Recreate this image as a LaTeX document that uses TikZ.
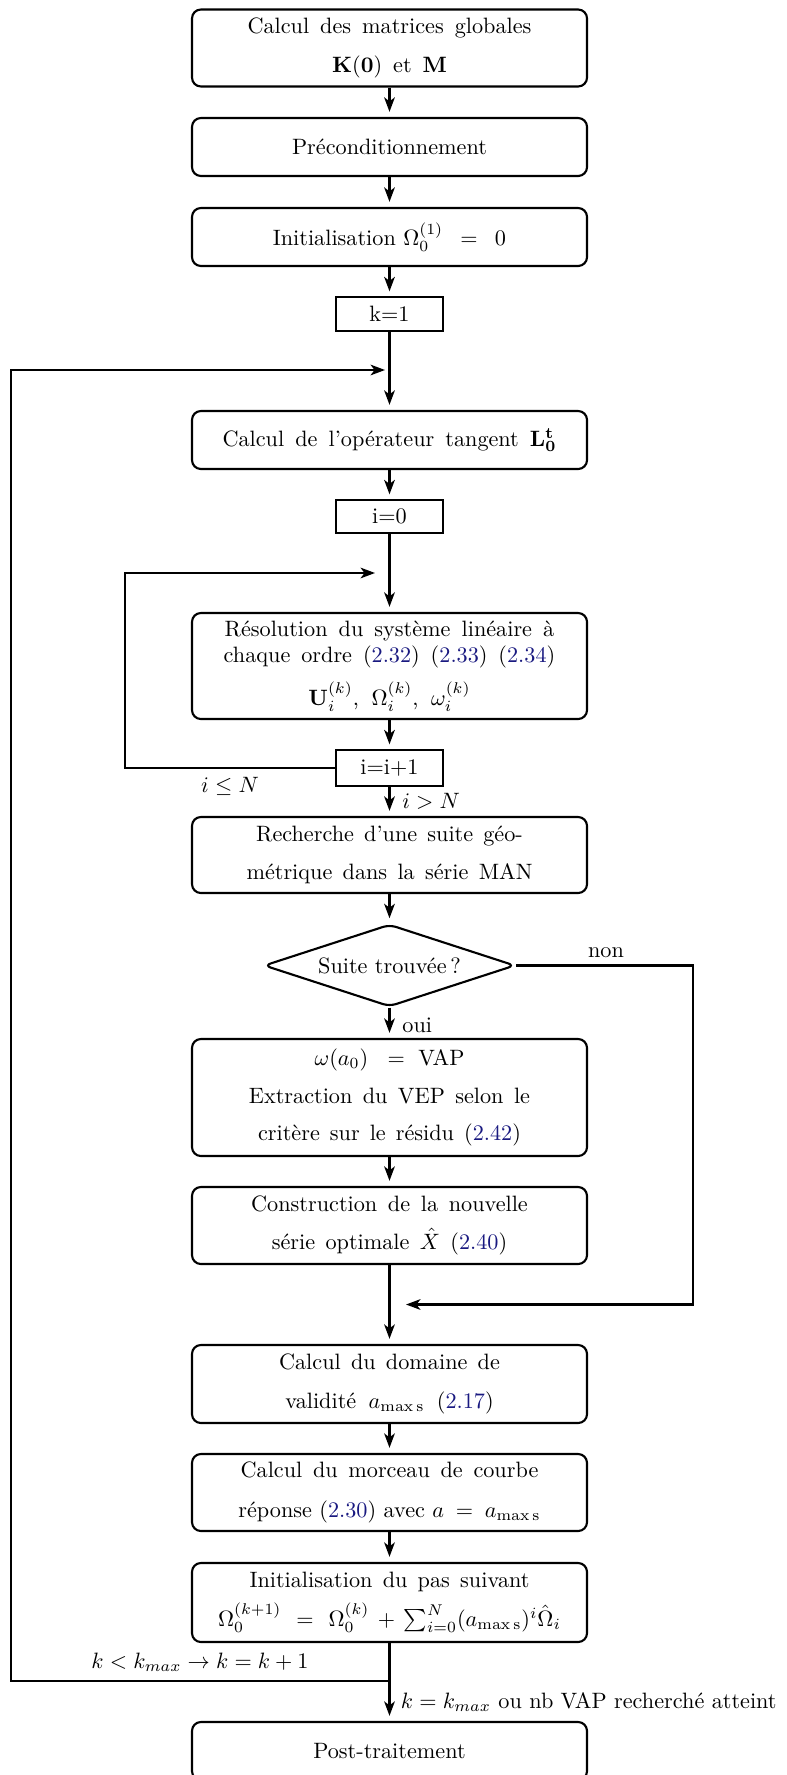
\documentclass[tikz,border=0pt]{standalone}
\usetikzlibrary{arrows.meta,shapes.geometric}
\definecolor{refc}{rgb}{0.1,0.1,0.5}
\newcommand{\eqr}[1]{\textcolor{refc}{#1}}
\newcommand{\jline}[2]{\makebox[#1][s]{#2}}
\begin{document}
\begin{tikzpicture}[x=0.45pt,y=-0.45pt,
  box/.style={draw,line width=0.95pt,rounded corners=4pt,minimum width=177.75pt,align=center,inner sep=2pt,anchor=center},
  sbox/.style={draw,line width=0.5pt,minimum width=48.15pt,inner sep=2pt,anchor=center},
  dec/.style={diamond,draw,line width=0.95pt,rounded corners=3pt,aspect=3,minimum width=113pt,minimum height=37pt,inner sep=0pt},
  arr/.style={line width=0.95pt,-{Stealth[length=6.5pt,width=4.8pt,inset=1.8pt]},shorten >=2.3pt},
  loopline/.style={line width=0.95pt,-{Stealth[length=6.5pt,width=4.8pt,inset=1.8pt]}},
  lbl/.style={inner sep=0pt}]
\useasboundingbox (0,0) rectangle (787,1775);
% boxes
\node[box,minimum height=34.65pt] (b1) at (389.5,48) {\jline{127.8pt}{Calcul des matrices globales}\\[5.5pt] \jline{51.6pt}{$\mathbf{K}(\mathbf{0})$ et $\mathbf{M}$}};
\node[box,minimum height=26.1pt] (b2) at (389.5,147) {Préconditionnement};
\node[box,minimum height=26.1pt] (b3) at (389.5,237) {Initialisation $\Omega_0^{(1)}\hspace{5pt}=\hspace{5pt}0$};
\node[sbox,minimum height=15.3pt] (k1) at (389.5,314) {k=1};
\node[box,minimum height=26.1pt] (lt) at (389.5,440) {\jline{150.3pt}{Calcul de l'opérateur tangent $\mathbf{L}_{\mathbf{0}}^{\mathbf{t}}$}};
\node[sbox,minimum height=14.85pt] (i0) at (389.5,516.5) {i=0};
\node[box,minimum height=47.7pt] (res) at (389.5,666) {\jline{148.3pt}{Résolution du système linéaire à}\\ \jline{149.2pt}{chaque ordre (\eqr{2.32}) (\eqr{2.33}) (\eqr{2.34})}\\[5pt] \jline{73pt}{$\mathbf{U}_i^{(k)}$, $\Omega_i^{(k)}$, $\omega_i^{(k)}$}};
\node[sbox,minimum height=16.2pt] (ii) at (389.5,768) {i=i+1};
\node[box,minimum height=34.2pt] (rech) at (389.5,855) {\jline{120pt}{Recherche d'une suite géo-}\\[5pt] \jline{128.7pt}{métrique dans la série MAN}};
\node[dec] (dec) at (389.5,965.5) {Suite trouvée\,?};
\node[box,minimum height=52.65pt] (vap) at (389.5,1097.5) {$\omega(a_0)\hspace{6pt}=\hspace{6pt}$VAP\\[5pt] \jline{126.5pt}{Extraction du VEP selon le}\\[5pt] \jline{118.3pt}{critère sur le résidu (\eqr{2.42})}};
\node[box,minimum height=34.65pt] (cons) at (389.5,1225.5) {\jline{124.5pt}{Construction de la nouvelle}\\[5pt] \jline{105.9pt}{série optimale $\hat{X}$ (\eqr{2.40})}};
\node[box,minimum height=35.1pt] (dom) at (389.5,1384) {\jline{99.4pt}{Calcul du domaine de}\\[5.5pt] \jline{93.8pt}{validité $a_{\max\mathrm{s}}$ (\eqr{2.17})}};
\node[box,minimum height=34.65pt] (morc) at (389.5,1492.5) {\jline{134pt}{Calcul du morceau de courbe}\\[6pt] réponse (\eqr{2.30}) avec $a\hspace{2.5pt}=\hspace{2.5pt}a_{\max\mathrm{s}}$};
\node[box,minimum height=35.55pt] (ini) at (389.5,1602.5) {\jline{126pt}{Initialisation du pas suivant}\\[4pt] \jline{154.3pt}{$\Omega_0^{(k+1)}=\Omega_0^{(k)}+\sum_{i=0}^{N}(a_{\max\mathrm{s}})^i\hat{\Omega}_i$}};
\node[box,minimum height=26.1pt] (post) at (389.5,1751) {Post-traitement};
% coordinates of the loops
\coordinate (tipO) at (385,370);
\coordinate (tipI) at (375,573);
\coordinate (tipN) at (406,1304.5);
\coordinate (inL) at (125,573);
\coordinate (nonR) at (693,1304.5);
\coordinate (outB) at (389.5,1681);
\coordinate (outL) at (11,370);
% main arrows
\draw[arr] (b1.south) -- (b2.north);
\draw[arr] (b2.south) -- (b3.north);
\draw[arr] (b3.south) -- (k1.north);
\draw[arr] (k1.south) -- (lt.north);
\draw[arr] (lt.south) -- (i0.north);
\draw[arr] (i0.south) -- (res.north);
\draw[arr] (res.south) -- (ii.north);
\draw[arr] (ii.south) -- (rech.north);
\draw[arr] (rech.south) -- (dec.north);
\draw[arr] (dec.south) -- (vap.north);
\draw[arr] (vap.south) -- (cons.north);
\draw[arr] (cons.south) -- (dom.north);
\draw[arr] (dom.south) -- (morc.north);
\draw[arr] (morc.south) -- (ini.north);
\draw[arr] (ini.south) -- (post.north);
% loops
\draw[loopline] (ii.west) -| (inL) -- (tipI);
\draw[loopline] (dec.east) -| (nonR) -- (tipN);
\draw[loopline] (outB) -| (outL) -- (tipO);
% labels
\node[lbl,anchor=base] (lle) at (230,792) {$i \leq N$};
\node[lbl,anchor=base west] (lgt) at (402,808) {$i > N$};
\node[lbl,anchor=base] (lnon) at (606,957) {non};
\node[lbl,anchor=base west] (loui) at (402,1032) {oui};
\node[lbl,anchor=base] (lkl) at (200,1668) {$k < k_{max} \rightarrow k = k+1$};
\node[lbl,anchor=base west] (lke) at (400.5,1708) {$k = k_{max}$ ou nb VAP recherché atteint};
\end{tikzpicture}
\end{document}
